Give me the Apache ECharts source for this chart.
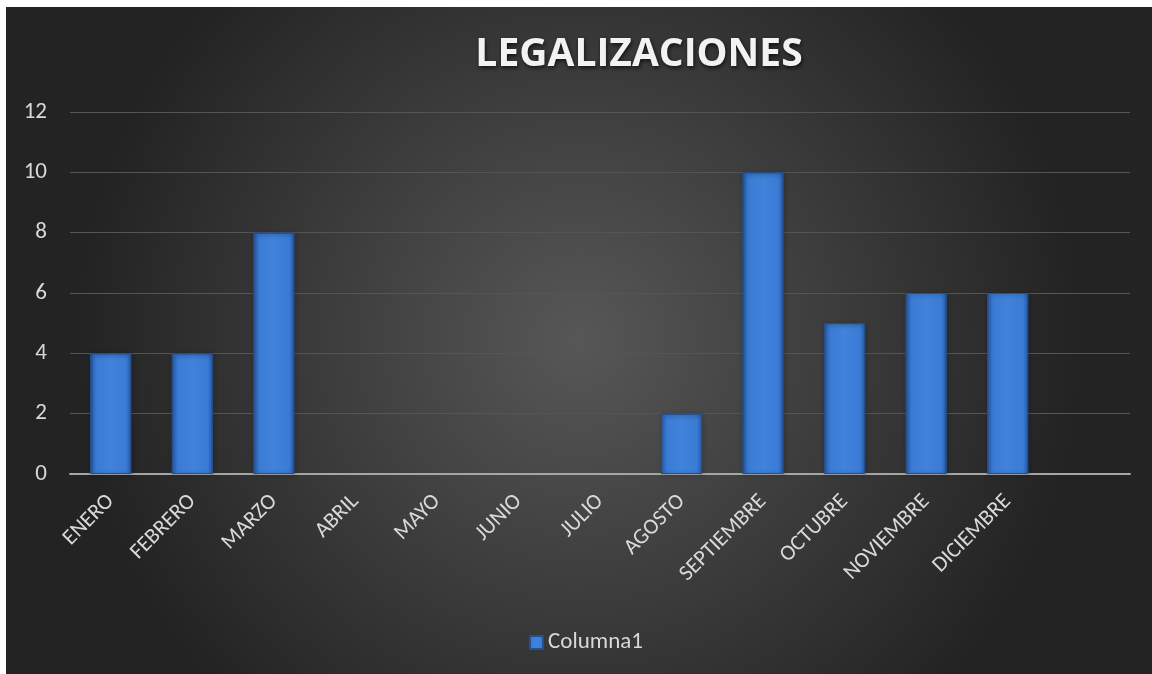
<!DOCTYPE html>
<html>
<head>
<meta charset="utf-8">
<script src="https://cdn.jsdelivr.net/npm/echarts@6/dist/echarts.min.js"></script>
<style>
html,body{margin:0;padding:0;background:#fff;width:1152px;height:674px;overflow:hidden;}
#c{position:absolute;left:6px;top:7px;width:1146px;height:667px;}
</style>
</head>
<body>
<div id="c"></div>
<script>
const categories = ['ENERO','FEBRERO','MARZO','ABRIL','MAYO','JUNIO','JULIO','AGOSTO','SEPTIEMBRE','OCTUBRE','NOVIEMBRE','DICIEMBRE',''];
const columna1 = [4,4,8,0,0,0,0,2,10,5,6,6,null];
const seriesName = 'Columna1';
const titleText = 'LEGALIZACIONES';

const FONT = 'Carlito, Lato, "Open Sans", sans-serif';
const chart = echarts.init(document.getElementById('c'));
const barGrad = new echarts.graphic.LinearGradient(0,0,1,0,[
  {offset:0,color:'#2a5fae'},
  {offset:0.12,color:'#3a7bd6'},
  {offset:0.5,color:'#4083da'},
  {offset:0.88,color:'#3a7bd6'},
  {offset:1,color:'#2a5fae'}
]);
const barData = columna1.map(v => v === 0
  ? {value:v, itemStyle:{borderWidth:0, shadowBlur:0, opacity:0}}
  : v);
chart.setOption({
  backgroundColor: new echarts.graphic.RadialGradient(0.5,0.5,0.75,[
    {offset:0,color:'#575757'},
    {offset:1,color:'#232323'}
  ]),
  title:{
    text:titleText,
    left:628, top:23, textAlign:'center',
    textStyle:{fontFamily:'"Open Sans", sans-serif',fontWeight:'bold',fontSize:39,color:'#f2f2f2',
      textShadowColor:'rgba(0,0,0,0.7)',textShadowBlur:4,textShadowOffsetX:1,textShadowOffsetY:2}
  },
  legend:{
    data:[seriesName], left:518, top:619,
    itemWidth:13,itemHeight:13,itemGap:6,
    icon:'rect',
    textStyle:{color:'#d9d9d9',fontSize:23,fontFamily:FONT}
  },
  grid:{left:64,right:22,top:105,bottom:200,containLabel:false},
  xAxis:{
    type:'category', data:categories,
    axisLine:{lineStyle:{color:'#a6a6a6',width:2}},
    axisTick:{show:false},
    axisLabel:{rotate:45,interval:0,margin:24,color:'#d9d9d9',fontSize:22,fontFamily:FONT}
  },
  yAxis:{
    type:'value', min:0, max:12, interval:2,
    axisLine:{show:false}, axisTick:{show:false},
    splitLine:{lineStyle:{color:'#555555',width:1}},
    axisLabel:{margin:23,color:'#d9d9d9',fontSize:23,fontFamily:FONT}
  },
  series:[{
    name:seriesName, type:'bar', data:barData, barWidth:41,
    itemStyle:{color:barGrad,borderColor:'#23508f',borderWidth:1,
      shadowColor:'rgba(0,0,0,0.5)',shadowBlur:4,shadowOffsetX:1,shadowOffsetY:1},
    emphasis:{disabled:true}
  }]
});
</script>
</body>
</html>
